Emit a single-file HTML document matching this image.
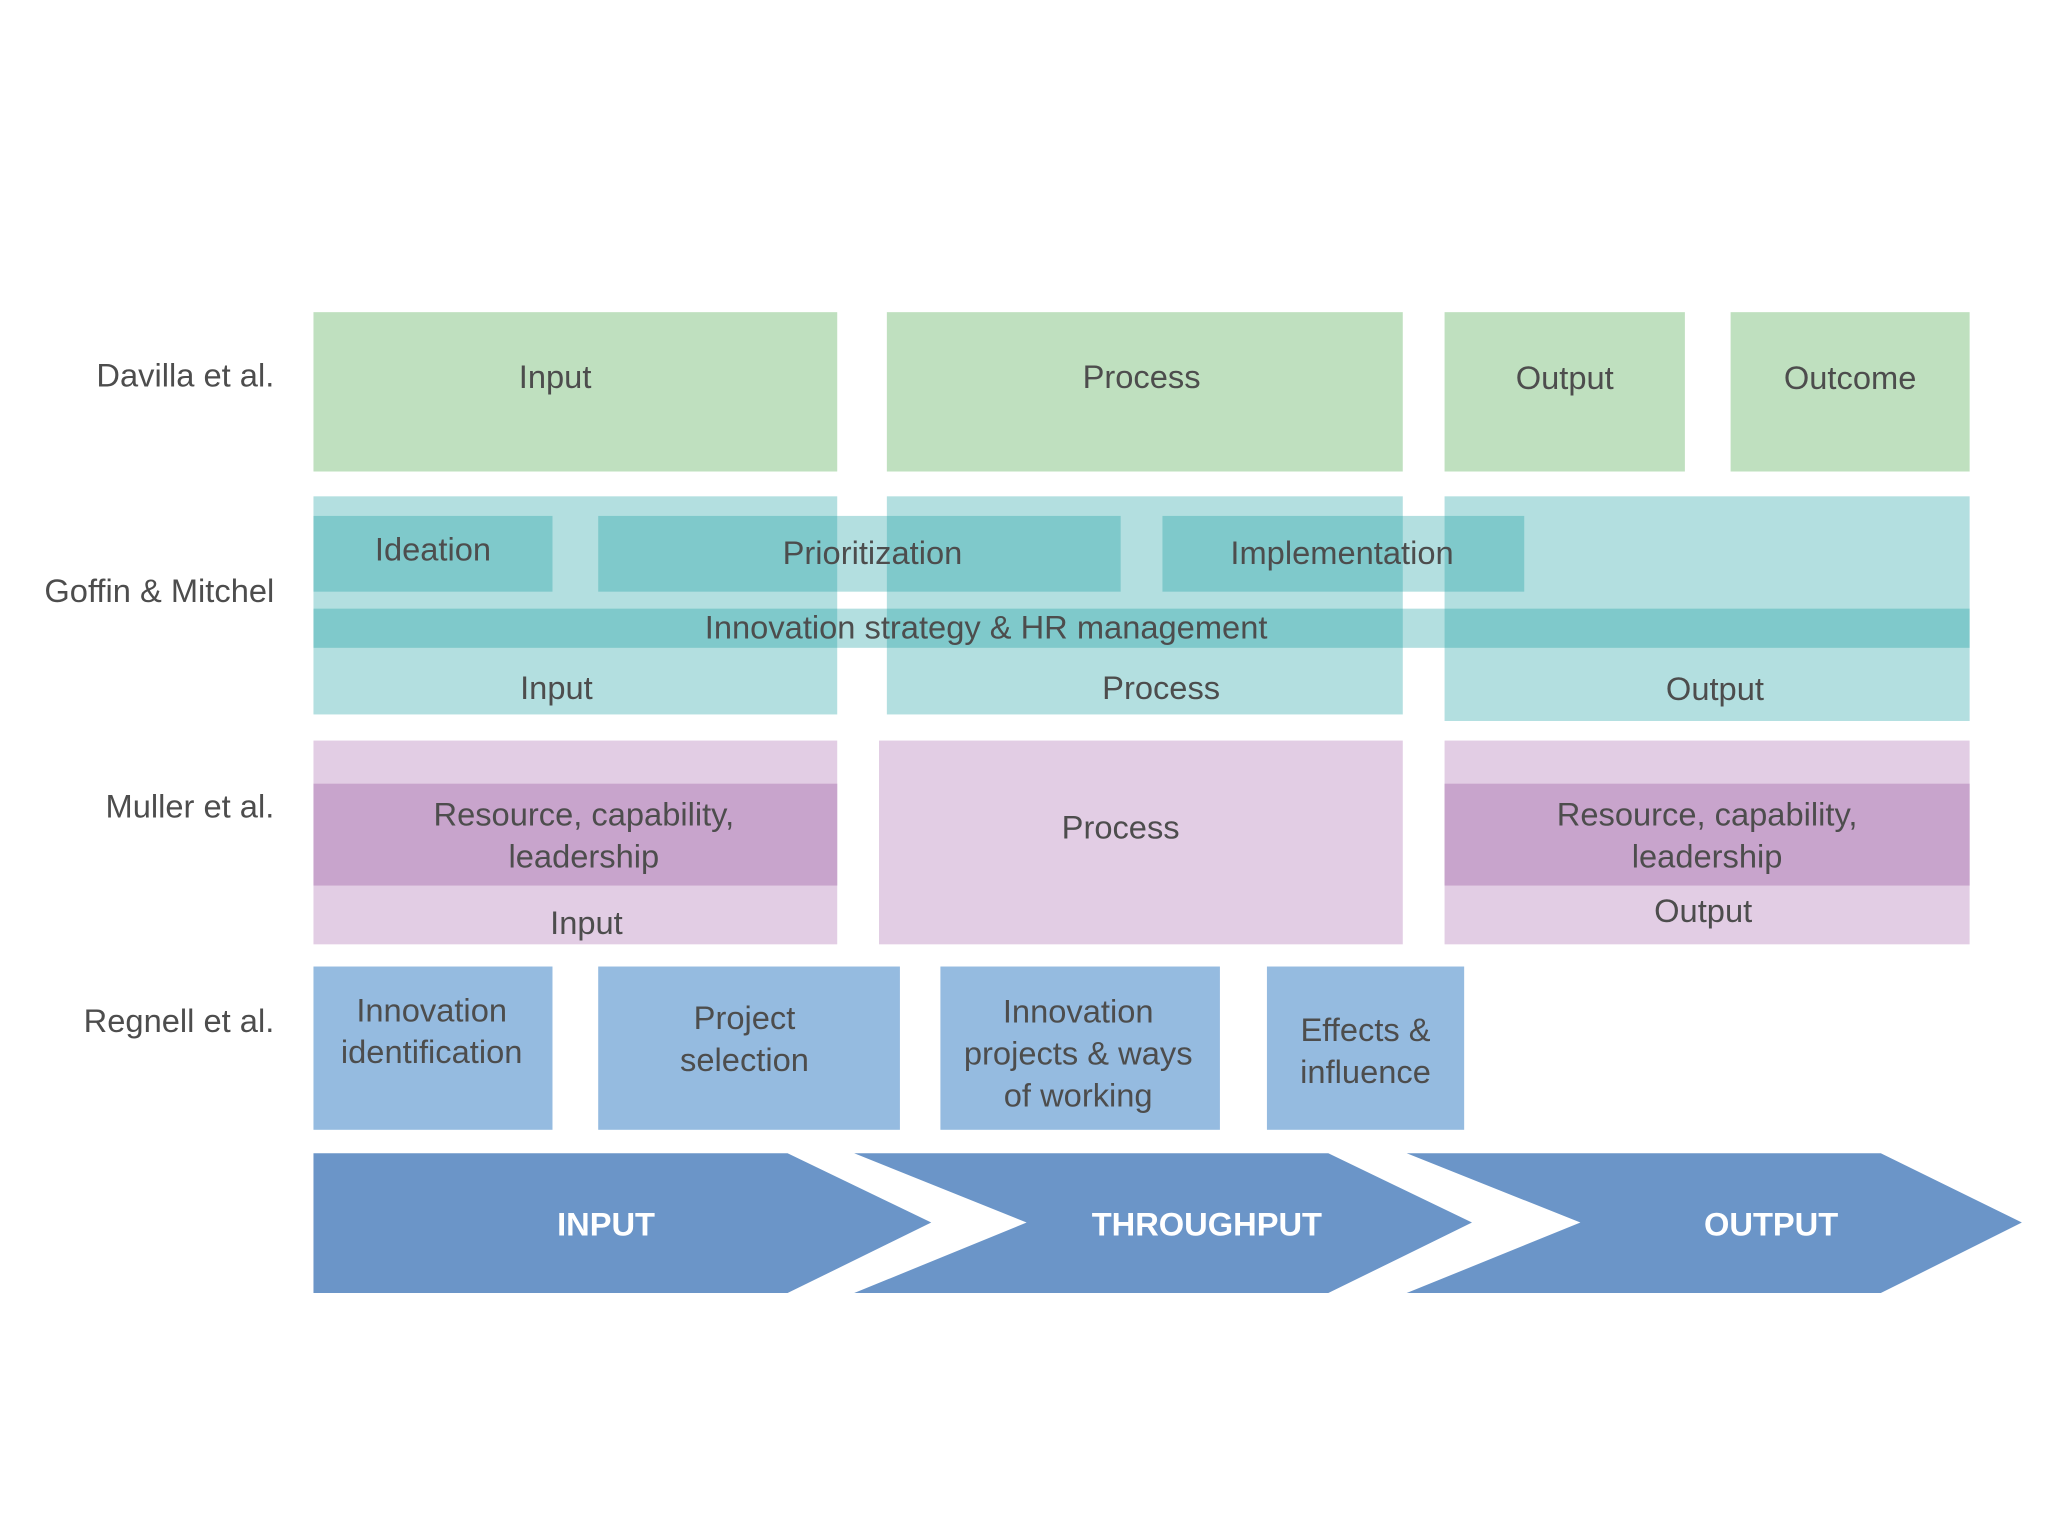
<!DOCTYPE html>
<html><head><meta charset="utf-8"><style>
html,body{margin:0;padding:0;background:#fff;}
#wrap{width:2048px;height:1536px;overflow:hidden;position:relative;background:#fff;}
#s{position:absolute;left:0;top:0;width:1568px;height:1176px;transform:scale(1.30612);transform-origin:0 0;font-family:"Liberation Sans",sans-serif;color:#4d4d4d;}
.b{position:absolute;}
.t{position:absolute;font-size:25px;text-align:center;line-height:32px;white-space:nowrap;}
.lab{position:absolute;right:1358px;font-size:25px;white-space:nowrap;text-align:right;}
.g{background:#bfe0bf;}
.tl{background:rgba(15,154,157,0.316);}
.pl{background:#e2cde4;}
.pd{background:#c8a4cc;}
.bl{background:#95bbe0;}
</style></head><body><div id="wrap"><div id="s">
<div class="lab" style="top:274px">Davilla et al.</div>
<div class="lab" style="top:439px">Goffin &amp; Mitchel</div>
<div class="lab" style="top:604px">Muller et al.</div>
<div class="lab" style="top:768px">Regnell et al.</div>

<div class="b g" style="left:240px;top:239px;width:401px;height:122px"></div>
<div class="b g" style="left:679px;top:239px;width:395px;height:122px"></div>
<div class="b g" style="left:1106px;top:239px;width:184px;height:122px"></div>
<div class="b g" style="left:1325px;top:239px;width:183px;height:122px"></div>
<div class="t" style="left:240px;width:370px;top:273px">Input</div>
<div class="t" style="left:679px;width:390px;top:273px">Process</div>
<div class="t" style="left:1106px;width:184px;top:274px">Output</div>
<div class="t" style="left:1325px;width:183px;top:274px">Outcome</div>

<div class="b tl" style="left:240px;top:380px;width:401px;height:167px"></div>
<div class="b tl" style="left:679px;top:380px;width:395px;height:167px"></div>
<div class="b tl" style="left:1106px;top:380px;width:402px;height:172px"></div>
<div class="b tl" style="left:240px;top:395px;width:183px;height:58px"></div>
<div class="b tl" style="left:458px;top:395px;width:400px;height:58px"></div>
<div class="b tl" style="left:890px;top:395px;width:277px;height:58px"></div>
<div class="b tl" style="left:240px;top:466px;width:1268px;height:30px"></div>
<div class="t" style="left:240px;width:183px;top:405px">Ideation</div>
<div class="t" style="left:458px;width:420px;top:408px">Prioritization</div>
<div class="t" style="left:890px;width:275px;top:408px">Implementation</div>
<div class="t" style="left:240px;width:1030px;top:465px">Innovation strategy &amp; HR management</div>
<div class="t" style="left:240px;width:372px;top:511px">Input</div>
<div class="t" style="left:679px;width:420px;top:511px">Process</div>
<div class="t" style="left:1106px;width:414px;top:512px">Output</div>

<div class="b pl" style="left:240px;top:567px;width:401px;height:156px"></div>
<div class="b pl" style="left:673px;top:567px;width:401px;height:156px"></div>
<div class="b pl" style="left:1106px;top:567px;width:402px;height:156px"></div>
<div class="b pd" style="left:240px;top:600px;width:401px;height:78px"></div>
<div class="b pd" style="left:1106px;top:600px;width:402px;height:78px"></div>
<div class="t" style="left:240px;width:414px;top:608px">Resource, capability,<br>leadership</div>
<div class="t" style="left:240px;width:418px;top:691px">Input</div>
<div class="t" style="left:673px;width:370px;top:618px">Process</div>
<div class="t" style="left:1106px;width:402px;top:608px">Resource, capability,<br>leadership</div>
<div class="t" style="left:1106px;width:396px;top:682px">Output</div>

<div class="b bl" style="left:240px;top:740px;width:183px;height:125px"></div>
<div class="b bl" style="left:458px;top:740px;width:231px;height:125px"></div>
<div class="b bl" style="left:720px;top:740px;width:214px;height:125px"></div>
<div class="b bl" style="left:970px;top:740px;width:151px;height:125px"></div>
<div class="t" style="left:240px;width:181px;top:758px">Innovation<br>identification</div>
<div class="t" style="left:458px;width:224px;top:764px">Project<br>selection</div>
<div class="t" style="left:720px;width:211px;top:759px">Innovation<br>projects &amp; ways<br>of working</div>
<div class="t" style="left:970px;width:151px;top:773px">Effects &amp;<br>influence</div>

<svg class="b" style="left:0;top:0" width="1568" height="1176">
<g fill="#6b95c8">
<polygon points="240,883 603,883 713,936 603,990 240,990"/>
<polygon points="654,883 1017,883 1127,936 1017,990 654,990 786,936"/>
<polygon points="1077,883 1440,883 1548,936 1440,990 1077,990 1210,936"/>
</g>
<g fill="#fff" font-family="Liberation Sans, sans-serif" font-size="25" font-weight="bold" text-anchor="middle">
<text x="464" y="946">INPUT</text>
<text x="924" y="946">THROUGHPUT</text>
<text x="1356" y="946">OUTPUT</text>
</g>
</svg>
</div></div></body></html>
